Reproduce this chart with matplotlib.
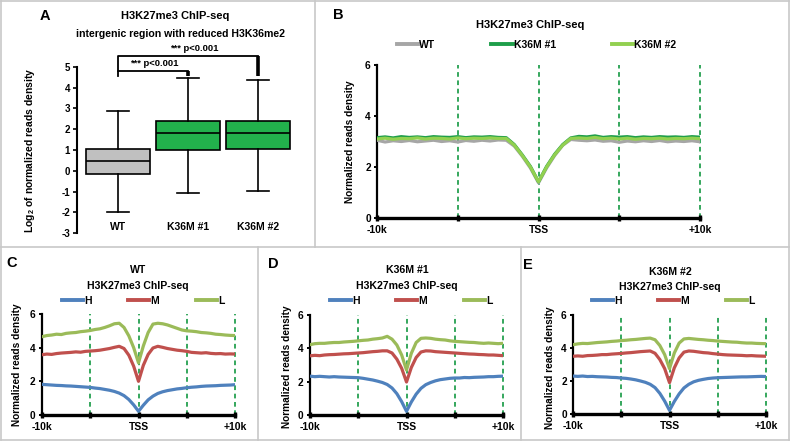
import numpy as np
import matplotlib
matplotlib.use('Agg')
import matplotlib.pyplot as plt
from matplotlib.lines import Line2D

plt.rcParams['font.family'] = ['Liberation Sans', 'DejaVu Sans']
plt.rcParams['font.weight'] = 'bold'
plt.rcParams['axes.unicode_minus'] = False
plt.rcParams['mathtext.fontset'] = 'custom'
plt.rcParams['mathtext.rm'] = 'Liberation Sans:bold'
plt.rcParams['mathtext.bf'] = 'Liberation Sans:bold'

# ---------------- data ----------------
box_groups = ['WT', 'K36M #1', 'K36M #2']
box_whislo = [-2.0, -1.05, -0.95]
box_q1 = [-0.15, 1.02, 1.05]
box_med = [0.45, 1.84, 1.84]
box_q3 = [1.04, 2.40, 2.40]
box_whishi = [2.87, 4.47, 4.37]
box_colors = ['#c0c0c0', '#22b14c', '#22b14c']

pos_k = np.linspace(-10, 10, 41)   # distance to TSS (kb)
tick_pos = [-10, -5, 0, 5, 10]
tick_labels = ['-10k', '', 'TSS', '', '+10k']

b_labels = ['WT', 'K36M #1', 'K36M #2']
b_colors = ['#a6a6a6', '#1e9e4a', '#92d050']
b_wt = [3.05, 2.98, 3.03, 3.00, 3.04, 2.99, 3.02, 3.05, 3.00, 3.03, 2.98, 3.04, 3.01, 3.05, 3.02, 3.06,
        3.05, 2.82, 2.42, 1.96, 1.38, 1.96, 2.45, 2.85, 3.08, 3.05, 3.03, 3.06, 3.01, 3.03, 2.97, 3.02,
        2.99, 3.03, 3.00, 3.04, 2.99, 3.02, 3.00, 3.03, 2.99]
b_k1 = [3.15, 3.18, 3.14, 3.19, 3.16, 3.18, 3.15, 3.19, 3.17, 3.16, 3.19, 3.15, 3.18, 3.17, 3.19, 3.16,
        3.15, 2.88, 2.47, 2.02, 1.42, 2.02, 2.50, 2.88, 3.14, 3.20, 3.18, 3.22, 3.16, 3.19, 3.17, 3.19,
        3.15, 3.18, 3.16, 3.19, 3.17, 3.18, 3.16, 3.19, 3.17]
b_k2 = [3.10, 3.13, 3.09, 3.12, 3.11, 3.14, 3.10, 3.13, 3.12, 3.10, 3.14, 3.11, 3.13, 3.12, 3.14, 3.12,
        3.12, 2.86, 2.45, 2.00, 1.42, 2.00, 2.48, 2.86, 3.12, 3.14, 3.12, 3.16, 3.11, 3.13, 3.10, 3.13,
        3.09, 3.12, 3.11, 3.13, 3.10, 3.12, 3.11, 3.13, 3.11]

hml_labels = ['H', 'M', 'L']
hml_colors = ['#4f81bd', '#c0504d', '#9bbb59']

c_h = [1.82, 1.80, 1.78, 1.76, 1.75, 1.73, 1.72, 1.70, 1.68, 1.66, 1.64, 1.60, 1.57, 1.52, 1.47, 1.40,
       1.30, 1.15, 0.92, 0.60, 0.22, 0.58, 0.90, 1.12, 1.28, 1.38, 1.45, 1.50, 1.55, 1.58, 1.62, 1.65,
       1.67, 1.70, 1.72, 1.73, 1.74, 1.76, 1.77, 1.78, 1.80]
c_m = [3.58, 3.62, 3.60, 3.65, 3.68, 3.70, 3.72, 3.75, 3.73, 3.78, 3.80, 3.82, 3.85, 3.90, 3.95, 4.02,
       4.08, 3.95, 3.55, 2.90, 2.00, 2.95, 3.60, 3.98, 4.08, 4.02, 3.95, 3.90, 3.85, 3.82, 3.78, 3.72,
       3.70, 3.68, 3.70, 3.66, 3.64, 3.65, 3.62, 3.63, 3.62]
c_l = [4.65, 4.72, 4.75, 4.80, 4.78, 4.85, 4.88, 4.90, 4.95, 4.98, 5.02, 5.08, 5.12, 5.20, 5.30, 5.42,
       5.45, 5.20, 4.70, 4.00, 3.10, 4.10, 4.90, 5.40, 5.45, 5.42, 5.35, 5.25, 5.15, 5.05, 5.00, 4.98,
       4.95, 4.90, 4.88, 4.85, 4.80, 4.78, 4.75, 4.73, 4.72]

d_h = [2.33, 2.30, 2.32, 2.30, 2.28, 2.30, 2.28, 2.27, 2.26, 2.25, 2.24, 2.20, 2.15, 2.10, 2.03, 1.95,
       1.83, 1.62, 1.28, 0.80, 0.22, 0.78, 1.25, 1.60, 1.82, 1.95, 2.05, 2.12, 2.16, 2.20, 2.22, 2.22,
       2.25, 2.24, 2.26, 2.27, 2.28, 2.30, 2.30, 2.32, 2.33]
d_m = [3.55, 3.58, 3.56, 3.60, 3.62, 3.63, 3.65, 3.67, 3.68, 3.70, 3.72, 3.74, 3.77, 3.80, 3.82, 3.85,
       3.85, 3.72, 3.35, 2.80, 1.98, 2.85, 3.45, 3.78, 3.85, 3.84, 3.80, 3.78, 3.76, 3.74, 3.72, 3.70,
       3.68, 3.66, 3.65, 3.63, 3.62, 3.60, 3.60, 3.58, 3.56]
d_l = [4.22, 4.28, 4.30, 4.30, 4.33, 4.35, 4.35, 4.38, 4.40, 4.42, 4.45, 4.48, 4.50, 4.55, 4.58, 4.62,
       4.72, 4.55, 4.20, 3.60, 2.70, 3.70, 4.35, 4.60, 4.62, 4.60, 4.55, 4.52, 4.50, 4.45, 4.42, 4.40,
       4.38, 4.36, 4.35, 4.32, 4.30, 4.32, 4.30, 4.28, 4.30]

e_h = [2.30, 2.28, 2.30, 2.27, 2.28, 2.26, 2.25, 2.24, 2.22, 2.21, 2.18, 2.16, 2.12, 2.07, 2.00, 1.92,
       1.80, 1.60, 1.25, 0.78, 0.22, 0.76, 1.22, 1.58, 1.80, 1.95, 2.04, 2.10, 2.15, 2.18, 2.20, 2.21,
       2.22, 2.23, 2.24, 2.25, 2.25, 2.26, 2.27, 2.28, 2.27]
e_m = [3.50, 3.52, 3.50, 3.54, 3.55, 3.57, 3.60, 3.60, 3.63, 3.65, 3.67, 3.70, 3.72, 3.75, 3.78, 3.80,
       3.82, 3.68, 3.30, 2.75, 1.90, 2.80, 3.40, 3.75, 3.82, 3.80, 3.76, 3.72, 3.70, 3.66, 3.63, 3.60,
       3.58, 3.57, 3.56, 3.55, 3.53, 3.54, 3.52, 3.51, 3.50]
e_l = [4.20, 4.25, 4.28, 4.27, 4.30, 4.33, 4.35, 4.37, 4.40, 4.42, 4.45, 4.47, 4.50, 4.52, 4.55, 4.58,
       4.60, 4.50, 4.15, 3.60, 2.75, 3.70, 4.30, 4.55, 4.58, 4.55, 4.52, 4.50, 4.47, 4.45, 4.42, 4.40,
       4.38, 4.36, 4.35, 4.32, 4.30, 4.30, 4.28, 4.27, 4.26]

# ---------------- layout helpers ----------------
W, H = 790, 443
fig = plt.figure(figsize=(W / 100, H / 100), dpi=100)
fig.patch.set_facecolor('white')


def axes_px(l, t, r, b):
    return fig.add_axes([l / W, 1 - b / H, (r - l) / W, (b - t) / H])


def ftext(x, y, s, **kw):
    kw.setdefault('ha', 'center')
    kw.setdefault('va', 'center')
    kw.setdefault('fontweight', 'bold')
    return fig.text(x / W, 1 - y / H, s, **kw)


# panel borders
border_col = '#c8c8c8'
for (x0, y0, x1, y1) in [(0.5, 0.5, 789, 0.5), (0.5, 440, 789, 440), (0.5, 0.5, 0.5, 440),
                         (789, 0.5, 789, 440), (0.5, 247, 789, 247), (315, 0.5, 315, 247),
                         (258, 247, 258, 440), (521, 247, 521, 440)]:
    fig.add_artist(Line2D([x0 / W, x1 / W], [1 - y0 / H, 1 - y1 / H], color=border_col, lw=1.2,
                          transform=fig.transFigure))

# ---------------- Panel A ----------------
axA = axes_px(77, 66.7, 296.5, 233.3)
stats = []
for i, g in enumerate(box_groups):
    stats.append(dict(label=g, whislo=box_whislo[i], q1=box_q1[i], med=box_med[i],
                      q3=box_q3[i], whishi=box_whishi[i], fliers=[]))
bp = axA.bxp(stats, positions=range(len(box_groups)), widths=0.91, capwidths=0.31,
             patch_artist=True, showfliers=False,
             boxprops=dict(edgecolor='black', linewidth=1.2),
             medianprops=dict(color='black', linewidth=1.2),
             whiskerprops=dict(color='black', linewidth=1.2),
             capprops=dict(color='black', linewidth=1.2))
for patch, c in zip(bp['boxes'], box_colors):
    patch.set_facecolor(c)
axA.set_xlim(-0.59, 2.55)
axA.set_ylim(-3, 5)
axA.set_yticks(range(-3, 6))
axA.tick_params(axis='y', direction='out', length=3, width=1.2, labelsize=7, pad=2)
axA.set_xticks([])
for s in ['top', 'right', 'bottom']:
    axA.spines[s].set_visible(False)
axA.spines['left'].set_linewidth(1.5)
for lab in axA.get_yticklabels():
    lab.set_fontweight('bold')
for i, g in enumerate(box_groups):
    axA.text(i, -2.72, g, ha='center', va='center', fontsize=7.5, fontweight='bold')
# significance brackets
axA.plot([0, 0, 1], [4.55, 4.80, 4.80], color='black', lw=1.3, clip_on=False)
axA.plot([1, 1], [4.80, 4.55], color='black', lw=2.6, clip_on=False, solid_capstyle='butt')
axA.plot([0, 0, 2], [4.80, 5.52, 5.52], color='black', lw=1.3, clip_on=False)
axA.plot([2, 2], [5.52, 4.55], color='black', lw=2.6, clip_on=False, solid_capstyle='butt')
axA.text(0.51, 5.17, '*** p<0.001', ha='center', va='center', fontsize=6.8, fontweight='bold')
axA.text(1.09, 5.88, '*** p<0.001', ha='center', va='center', fontsize=6.8, fontweight='bold')

ftext(45, 16, 'A', fontsize=10.5)
ftext(175, 16, 'H3K27me3 ChIP-seq', fontsize=8)
ftext(180, 34, 'intergenic region with reduced H3K36me2', fontsize=7.6)
ftext(30, 150, r'Log$_{\mathbf{2}}$ of normalized reads density', fontsize=7.5, rotation=90)

# ---------------- profile panels ----------------
dash_col = '#25a050'


def profile_axes(l, t, r, b):
    ax = axes_px(l, t, r, b)
    ax.set_xlim(-10, 10)
    ax.set_ylim(0, 6)
    for v in tick_pos[1:]:
        ax.axvline(v, color=dash_col, lw=1.3, ls=(0, (2.6, 2.0)), zorder=1, clip_on=False)
    for s in ['top', 'right']:
        ax.spines[s].set_visible(False)
    ax.spines['bottom'].set_linewidth(2.4)
    ax.spines['left'].set_linewidth(1.6)
    ax.set_xticks(tick_pos)
    ax.set_xticklabels(tick_labels)
    ax.set_yticks([0, 2, 4, 6])
    ax.tick_params(axis='x', direction='inout', length=4, width=2.4, pad=3, labelsize=7.5)
    ax.tick_params(axis='y', direction='out', length=2.5, width=1.4, pad=2, labelsize=7.3)
    for lab in ax.get_xticklabels() + ax.get_yticklabels():
        lab.set_fontweight('bold')
    ax.patch.set_alpha(0)
    return ax


def legend(ax, x, y, spacing, hl):
    ax.legend(ncol=3, frameon=False, loc='center left', bbox_to_anchor=(x / W, 1 - y / H),
              bbox_transform=fig.transFigure, handlelength=hl, handletextpad=0.1,
              columnspacing=spacing, borderpad=0, borderaxespad=0,
              prop=dict(weight='bold', size=7.5))
    for ln in ax.get_legend().get_lines():
        ln.set_linewidth(2.8)


# Panel B
axB = profile_axes(377, 65, 700, 218)
for ys, c, lab in zip([b_wt, b_k1, b_k2], b_colors, b_labels):
    axB.plot(pos_k, ys, color=c, lw=2.3, label=lab, zorder=3)
legend(axB, 397, 45, 5.35, 2.05)
ftext(338, 15, 'B', fontsize=10.5)
ftext(530, 25, 'H3K27me3 ChIP-seq', fontsize=8)
ftext(350, 142, 'Normalized reads density', fontsize=7.3, rotation=90)

# Panels C, D, E
panels = [
    dict(box=(42, 314, 235, 415), data=[c_h, c_m, c_l], letter=('C', 12, 263), sample='WT',
         cx=138, ys=(270, 286), leg=62, ylab=(17, 365)),
    dict(box=(310, 315, 503, 415), data=[d_h, d_m, d_l], letter=('D', 273, 264), sample='K36M #1',
         cx=407, ys=(270, 286), leg=330, ylab=(287, 367)),
    dict(box=(573, 315, 766, 414), data=[e_h, e_m, e_l], letter=('E', 528, 265), sample='K36M #2',
         cx=670, ys=(272, 287), leg=592, ylab=(550, 368)),
]
for p in panels:
    ax = profile_axes(*p['box'])
    for ys, c, lab in zip(p['data'], hml_colors, hml_labels):
        ax.plot(pos_k, ys, color=c, lw=2.3, label=lab, zorder=3)
    legend(ax, p['leg'], 301, 3.55, 2.0)
    L, lx, ly = p['letter']
    ftext(lx, ly, L, fontsize=10.5)
    ftext(p['cx'], p['ys'][0], p['sample'], fontsize=7.6)
    ftext(p['cx'], p['ys'][1], 'H3K27me3 ChIP-seq', fontsize=7.6)
    ftext(p['ylab'][0], p['ylab'][1], 'Normalized reads density', fontsize=7.3, rotation=90)

fig.savefig('out.png', dpi=100)
